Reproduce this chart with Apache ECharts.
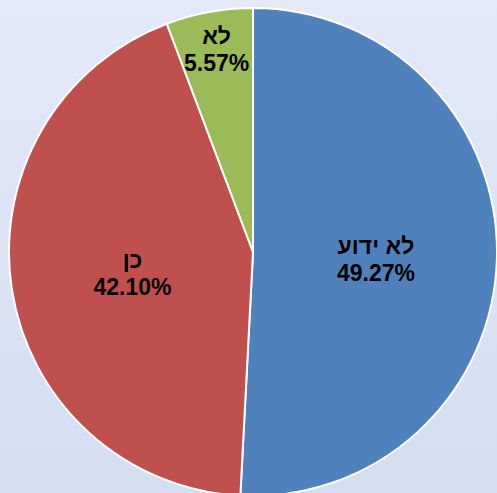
<!DOCTYPE html>
<html dir="rtl"><head><meta charset="utf-8">
<script src="https://cdn.jsdelivr.net/npm/echarts@6/dist/echarts.min.js"></script>
<style>html,body{margin:0;padding:0;}#c{width:497px;height:493px;direction:ltr;}</style>
</head><body><div id="c"></div>
<script>
const categories = ['לא ידוע', 'כן', 'לא'];
const values = [49.27, 42.10, 5.57];
const colors = ['#4F81BD', '#C0504D', '#9BBB59'];
const labelDx = [-2, 3, -14];
const labelDy = [4, 2, -80];

const chart = echarts.init(document.getElementById('c'), null, {renderer: 'svg'});
chart.setOption({
  backgroundColor: {type: 'linear', x: 0, y: 0, x2: 0, y2: 1, colorStops: [
    {offset: 0, color: '#e3e9f7'}, {offset: 1, color: '#d4def1'}]},
  animation: false,
  series: [{
    type: 'pie',
    center: [253, 252],
    radius: [0, 244],
    startAngle: 90,
    clockwise: true,
    itemStyle: {borderColor: '#ffffff', borderWidth: 2},
    label: {
      show: true, position: 'inside',
      formatter: p => p.name + '\n' + p.value.toFixed(2) + '%',
      fontFamily: 'Liberation Sans, Arial, sans-serif',
      fontWeight: 'bold', fontSize: 23, lineHeight: 27, color: '#000'
    },
    labelLayout: p => ({dx: labelDx[p.dataIndex], dy: labelDy[p.dataIndex]}),
    data: categories.map((c, i) => ({name: c, value: values[i], itemStyle: {color: colors[i]}}))
  }]
});
</script></body></html>
